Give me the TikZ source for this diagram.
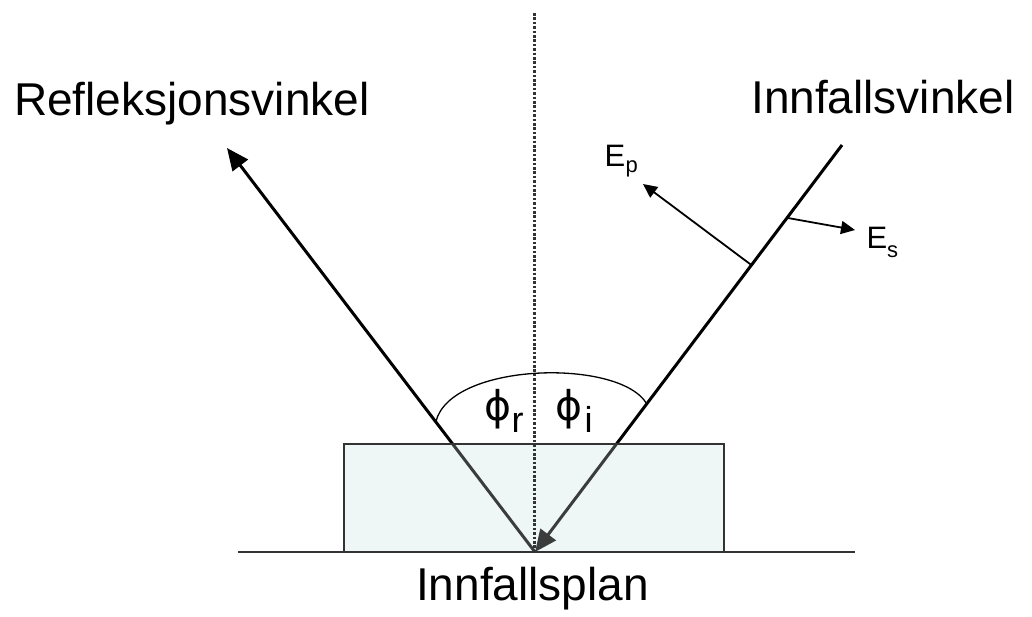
\documentclass[tikz,border=0pt]{standalone}
\usepackage{fontspec}
\setmainfont{Liberation Sans}
\newfontfamily\dvs{DejaVu Sans}
\usetikzlibrary{arrows.meta,calc}
\definecolor{rectfill}{HTML}{EEF6F6}
\definecolor{linegray}{HTML}{333333}
\definecolor{dotgray}{HTML}{333333}
\begin{document}
\begin{tikzpicture}[x=1pt,y=-1pt,
  ray/.style={line width=3pt,black},
  bigtip/.style={-{Triangle[length=22pt,width=19pt]}},
  field/.style={line width=1.8pt,black,-{Triangle[length=14pt,width=13pt]}},
  biglbl/.style={inner sep=0pt,anchor=base west,font=\fontsize{46}{50}\selectfont},
  elbl/.style={inner sep=0pt,anchor=base west,font=\fontsize{31}{34}\selectfont},
  sublbl/.style={inner sep=0pt,anchor=base west,font=\fontsize{22}{24}\selectfont},
  philbl/.style={inner sep=0pt,anchor=base west,font=\dvs\fontsize{41}{43}\selectfont},
  phisub/.style={inner sep=0pt,anchor=base west,font=\fontsize{36}{38}\selectfont}]
\useasboundingbox (0,0) rectangle (1032,616);
\coordinate (O) at (535,552);
\coordinate (Rtop) at (227,148);
\coordinate (Itop) at (842,145);
\coordinate (BL) at (238,552);
\coordinate (BR) at (855,552);
\coordinate (RectBL) at (344,552);
\coordinate (RectTR) at (724,444);
\coordinate (DotTop) at (534,13);
\coordinate (DotBot) at (534,552);
\coordinate (AL) at ($(O)!0.322!(Rtop)$);
\coordinate (AR) at ($(O)!0.364!(Itop)$);
\coordinate (PTail) at ($(O)!0.705!(Itop)$);
\coordinate (STail) at ($(O)!0.821!(Itop)$);
\coordinate (PTip) at (643,184);
\coordinate (STip) at (855,230);
% plate
\fill[rectfill] (RectBL) rectangle (RectTR);
% rays
\draw[ray,bigtip] (O) -- (Rtop);
\draw[ray,bigtip] (Itop) -- (O);
\fill[rectfill,opacity=0.25] (RectBL) rectangle (RectTR);
\draw[linegray,line width=2pt] (RectBL) |- (RectTR) -- (RectTR |- RectBL);
\draw[linegray,line width=2.2pt] (BL) -- (BR);
% normal
\draw[dotgray,line width=3pt,dash pattern=on 2.6pt off 1.8pt] (DotTop) -- (DotBot);
% angle arc
\draw[black,line width=1.3pt] (AL) .. controls (450,362) and (620,358) .. (AR);
% field components
\draw[field] (PTail) -- (PTip);
\draw[field] (STail) -- (STip);
% labels
\node[biglbl] (refl) at (14,115) {Refleksjonsvinkel};
\node[biglbl] (innv) at (751,113) {Innfallsvinkel};
\node[biglbl] (innp) at (416,600) {Innfallsplan};
\node[elbl] (Ep) at (604.5,166) {E};
\node[sublbl] (Epsub) at (625.5,172) {p};
\node[elbl] (Es) at (866.5,248) {E};
\node[sublbl] (Essub) at (887,257) {s};
\node[philbl] (phir) at (484,420) {ϕ};
\node[phisub] (phirsub) at (511.5,432) {r};
\node[philbl] (phii) at (555,420) {ϕ};
\node[phisub] (phiisub) at (584.5,432) {i};
\end{tikzpicture}
\end{document}
